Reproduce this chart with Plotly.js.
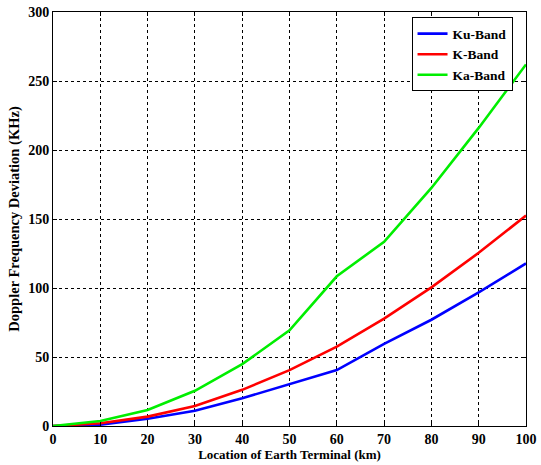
<!DOCTYPE html>
<html>
<head>
<meta charset="utf-8">
<script src="https://cdn.plot.ly/plotly-3.0.1.min.js"></script>
<style>html,body{margin:0;padding:0;background:#fff;}#chart{width:541px;height:465px;}</style>
</head>
<body>
<div id="chart"></div>
<script>
const distanceKm = [0, 10, 20, 30, 40, 50, 60, 70, 80, 90, 100];
const kuBand = [0, 1, 5.3, 11.1, 20.1, 30.5, 40.5, 59.5, 77, 96.9, 117.8];
const kBand  = [0, 2, 6.8, 14.5, 26.2, 40.5, 57.5, 77.8, 100.5, 125.5, 152.5];
const kaBand = [0, 3.6, 11.6, 25.5, 44.8, 69.3, 108.5, 133.5, 172.5, 216, 262];
const seriesNames = ["Ku-Band", "K-Band", "Ka-Band"];
const xTicks = [0, 10, 20, 30, 40, 50, 60, 70, 80, 90, 100];
const yTicks = [0, 50, 100, 150, 200, 250, 300];

const FAMILY = "Liberation Serif";
const colors = ["#0000ff", "#ff0000", "#00ee00"];
const values = [kuBand, kBand, kaBand];

const traces = values.map((v, i) => ({
  x: distanceKm, y: v, name: seriesNames[i], type: "scatter", mode: "lines",
  line: {color: colors[i], width: 2.6}
}));

function f(size) { return {family: FAMILY, size: size, color: "#000", weight: "bold"}; }

const axisCommon = {
  showline: true, linecolor: "#000", linewidth: 1, mirror: "ticks",
  ticks: "inside", ticklen: 4, tickcolor: "#000",
  showgrid: true, gridcolor: "#000", griddash: "dot", gridwidth: 1,
  zeroline: false,
  tickfont: f(14)
};

const layout = {
  width: 541, height: 465,
  margin: {l: 53, r: 15, t: 12, b: 39},
  paper_bgcolor: "#fff", plot_bgcolor: "#fff",
  font: {family: FAMILY, color: "#000"},
  xaxis: Object.assign({}, axisCommon, {
    range: [0, 100], tickvals: xTicks, ticktext: xTicks.map(String),
    title: {text: "Location of Earth Terminal (km)", font: f(13), standoff: 3}
  }),
  yaxis: Object.assign({}, axisCommon, {
    range: [0, 300], tickvals: yTicks, ticktext: yTicks.map(String),
    title: {text: "Doppler Frequency Deviation (KHz)", font: f(14.5), standoff: 5}
  }),
  showlegend: true,
  legend: {
    x: 0.758, y: 0.987, xanchor: "left", yanchor: "top",
    bgcolor: "#fff", bordercolor: "#000", borderwidth: 1,
    font: f(13.5),
    tracegroupgap: 0, itemwidth: 30,
    entrywidth: 88, entrywidthmode: "pixels"
  }
};

Plotly.newPlot("chart", traces, layout, {displayModeBar: false, staticPlot: true});
</script>
</body>
</html>
